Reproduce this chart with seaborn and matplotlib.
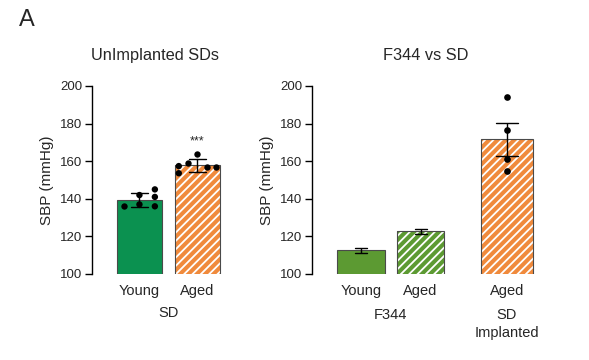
import numpy as np
import pandas as pd
import matplotlib
matplotlib.use("Agg")
import matplotlib.pyplot as plt
import matplotlib.transforms as mtransforms
from matplotlib.patches import Rectangle
import seaborn as sns

# ---- data ----
left_groups = ["Young", "Aged"]
left_young_values = [136, 137, 142, 136, 141, 145]
left_young_column = [0, 1, 1, 2, 2, 2]
left_aged_values = [157.4, 153.6, 158.9, 163.8, 156.7, 156.7]
left_aged_column = [0, 0, 1, 2, 3, 4]
left_group_label = "SD"
left_title = "UnImplanted SDs"
left_sig = "***"

right_labels = ["Young", "Aged", "Aged"]
right_means = [112.6, 122.7, 171.7]
right_sem = [1.2, 1.2, 8.8]
right_sd_implanted_values = [194.3, 176.6, 161.0, 154.8]
right_title = "F344 vs SD"
right_group_labels = ["F344", "SD", "Implanted"]

ylabel = "SBP (mmHg)"
yticks = [100, 120, 140, 160, 180, 200]

# ---- style ----
sns.set_theme(style="ticks")
plt.rcParams["font.family"] = ["Liberation Sans", "DejaVu Sans"]
plt.rcParams["hatch.linewidth"] = 1.3

c_green = "#0b9150"
c_orange = "#f08a3c"
c_olive = "#5c9a32"
edge = "#4a4a4a"

fig = plt.figure(figsize=(5.89, 3.6), dpi=100)
W, H = 589, 360
bottom = (H - 274) / H
height = (274 - 86) / H

axL = fig.add_axes([92 / W, bottom, 140 / W, height])
axR = fig.add_axes([311.7 / W, bottom, 228 / W, height])


def hatch_patch(ax, p):
    p.set_hatch("////")
    try:
        p.set_hatchcolor("white")
        p.set_edgecolor(edge)
    except Exception:
        p.set_edgecolor("white")
        p.set_linewidth(0)
        ax.add_patch(Rectangle(p.get_xy(), p.get_width(), p.get_height(),
                               fill=False, edgecolor=edge, linewidth=0.8,
                               zorder=p.get_zorder() + 0.1))


# ---- left panel ----
dfY = pd.DataFrame({"group": ["Young"] * len(left_young_values),
                    "sbp": left_young_values, "col": left_young_column})
dfA = pd.DataFrame({"group": ["Aged"] * len(left_aged_values),
                    "sbp": left_aged_values, "col": left_aged_column})
dfL = pd.concat([dfY, dfA], ignore_index=True)

sns.barplot(data=dfL, x="group", y="sbp", order=left_groups, hue="group",
            palette={"Young": c_green, "Aged": c_orange}, legend=False,
            saturation=1, errorbar="sd", capsize=0.3, width=0.78,
            err_kws={"color": "black", "linewidth": 1.0},
            edgecolor=edge, linewidth=0.8, ax=axL)
left_bars = sorted(list(axL.patches), key=lambda b: b.get_x())
hatch_patch(axL, left_bars[1])

for d in (dfY, dfA):
    ncol = d["col"].nunique()
    sns.stripplot(data=d, x="group", y="sbp", order=left_groups, hue="col",
                  palette=["black"] * ncol, dodge=True, jitter=False,
                  size=4.6, legend=False, ax=axL, zorder=5)

axL.text(1, 170.4, left_sig, ha="center", va="center", fontsize=9)

# ---- right panel ----
pos = [0, 1, 2.45]
dfR = pd.DataFrame({"pos": pos, "sbp": right_means, "k": ["a", "b", "c"]})
sns.barplot(data=dfR, x="pos", y="sbp", hue="k", native_scale=True,
            palette={"a": c_olive, "b": c_olive, "c": c_orange}, legend=False,
            saturation=1, errorbar=None, width=0.8, edgecolor=edge, linewidth=0.8, ax=axR)
bars_sorted = sorted(list(axR.patches), key=lambda b: b.get_x())
last = bars_sorted[-1]
cx = last.get_x() + last.get_width() / 2
last.set_width(0.88)
last.set_x(cx - 0.44)
for p in bars_sorted[1:]:
    hatch_patch(axR, p)

axR.errorbar(pos, right_means, yerr=right_sem, fmt="none", ecolor="black",
             elinewidth=1.0, capsize=0, zorder=4)
for x, m, e, cw in zip(pos, right_means, right_sem, [0.2, 0.2, 0.38]):
    axR.plot([x - cw / 2, x + cw / 2], [m + e, m + e], color="black", lw=1.0, zorder=4)
    axR.plot([x - cw / 2, x + cw / 2], [m - e, m - e], color="black", lw=1.0, zorder=4)

dfS = pd.DataFrame({"pos": [pos[2]] * len(right_sd_implanted_values),
                    "sbp": right_sd_implanted_values})
sns.stripplot(data=dfS, x="pos", y="sbp", native_scale=True, jitter=False,
              color="black", size=4.8, ax=axR, zorder=5)

# ---- axes formatting ----
for ax, xl in ((axL, (-0.82, 1.6)), (axR, (-0.83, 3.0))):
    ax.set_ylim(100, 200)
    ax.set_xlim(*xl)
    ax.set_yticks(yticks)
    ax.set_ylabel(ylabel, fontsize=11, labelpad=4)
    ax.set_xlabel("")
    sns.despine(ax=ax, bottom=True)
    ax.spines["left"].set_linewidth(1.0)
    ax.spines["left"].set_color("black")
    ax.tick_params(axis="y", length=5, width=1.0, labelsize=9.5, pad=2, color="black")
    ax.tick_params(axis="x", length=0, labelsize=10.5, pad=7)
    ax.set_facecolor("white")

axL.set_xticks([0, 1])
axL.set_xticklabels(left_groups)
axR.set_xticks(pos)
axR.set_xticklabels(right_labels)

axL.set_title(left_title, fontsize=11.8, x=0.45, pad=19)
axR.set_title(right_title, fontsize=11.8, pad=19)

trL = mtransforms.blended_transform_factory(axL.transData, fig.transFigure)
trR = mtransforms.blended_transform_factory(axR.transData, fig.transFigure)
axL.text(0.5, (H - 313) / H, left_group_label, transform=trL, ha="center", va="center", fontsize=10.5)
axR.text(0.5, (H - 315) / H, right_group_labels[0], transform=trR, ha="center", va="center", fontsize=10.5)
axR.text(pos[2], (H - 315) / H, right_group_labels[1], transform=trR, ha="center", va="center", fontsize=10.5)
axR.text(pos[2], (H - 333) / H, right_group_labels[2], transform=trR, ha="center", va="center", fontsize=10.5)

fig.text(27 / W, (H - 20) / H, "A", ha="center", va="center", fontsize=17)

fig.savefig("out.png", dpi=100, facecolor="white")
